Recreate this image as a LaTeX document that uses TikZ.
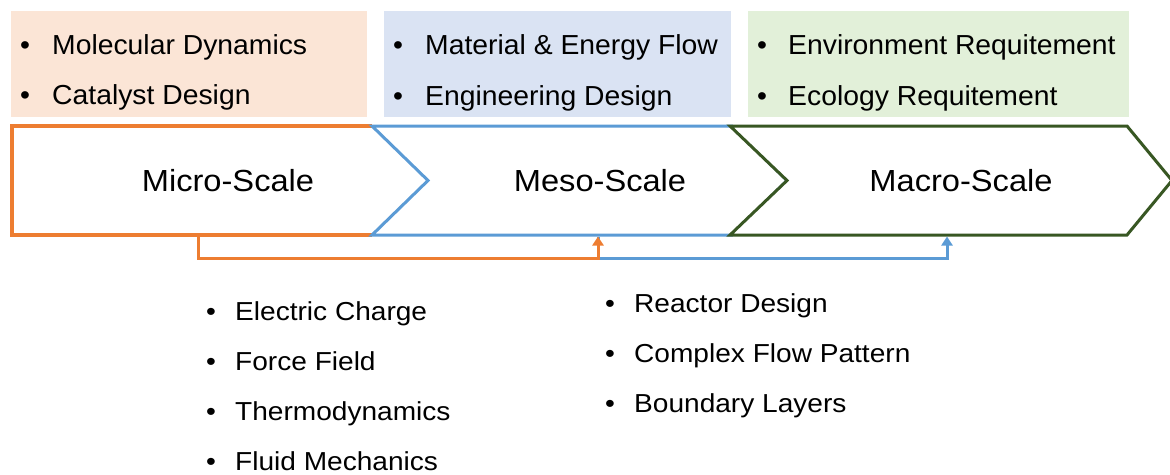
\documentclass[tikz,border=0pt]{standalone}
\usepackage{fontspec}
\setmainfont{Liberation Sans}
\newfontfamily\topfont[FakeStretch=1.03]{Liberation Sans}
\newfontfamily\lowfont[FakeStretch=1.08]{Liberation Sans}
\newfontfamily\stagefont[FakeStretch=1.07]{Liberation Sans}
\usetikzlibrary{arrows.meta}
\definecolor{peach}{HTML}{FBE5D6}
\definecolor{paleblue}{HTML}{DAE3F3}
\definecolor{palegreen}{HTML}{E2F0D9}
\definecolor{orangeline}{HTML}{ED7D31}
\definecolor{blueline}{HTML}{5B9BD5}
\definecolor{greenline}{HTML}{385723}
\tikzset{
  topitem/.style={anchor=base west, inner sep=0pt, font=\topfont\fontsize{27.5}{33}\selectfont},
  lowitem/.style={anchor=base west, inner sep=0pt, font=\lowfont\fontsize{26}{31}\selectfont},
  topdot/.style={anchor=base, inner sep=0pt, font=\topfont\fontsize{27.5}{33}\selectfont},
  lowdot/.style={anchor=base, inner sep=0pt, font=\lowfont\fontsize{26}{31}\selectfont},
  scalelabel/.style={inner sep=0pt, anchor=base, font=\stagefont\fontsize{30.5}{37}\selectfont},
  link/.style={line width=3pt, -{Triangle[width=11pt,length=9pt]}},
}
\begin{document}
\begin{tikzpicture}[x=1pt,y=-1pt]
\useasboundingbox (0,0) rectangle (1170,474);

% background panels above the three stages
\fill[peach] (11,11) rectangle (367,117);
\fill[paleblue] (384,11) rectangle (731,117);
\fill[palegreen] (748,11) rectangle (1129,117);

% micro stage: white body, orange outline up to the meso notch
\fill[white] (12,126) -- (372,126) -- (428,180.5) -- (372,235) -- (12,235) -- cycle;
\draw[orangeline, line width=4pt, line join=miter]
  (372,126) -- (12,126) -- (12,235) -- (372,235);
% meso stage
\draw[blueline, line width=3pt, fill=white, line join=miter]
  (372,126) -- (732,126) -- (787,180.5) -- (732,235) -- (372,235) -- (428,180.5) -- cycle;
% macro stage
\draw[greenline, line width=3pt, fill=white, line join=miter]
  (730,126) -- (1127,126) -- (1172,180.5) -- (1127,235) -- (730,235) -- (787,180.5) -- cycle;

\node[scalelabel] (micro) at (228,191) {Micro-Scale};
\node[scalelabel] (meso) at (600,191) {Meso-Scale};
\node[scalelabel] (macro) at (961,191) {Macro-Scale};

% connector end points on the stage outlines
\coordinate (microOut) at (198,236);
\coordinate (mesoIn) at (598,236.5);
\coordinate (mesoOut) at (598,236.5);
\coordinate (macroIn) at (947,236.5);

\draw[link, blueline] (mesoOut) |- (947,258) -- (macroIn);
\draw[link, orangeline] (microOut) |- (598,258) -- (mesoIn);

% lists above the stages
\node[topdot] (d1) at (25,54) {\textbullet};
\node[topitem] (t1) at (52,54) {Molecular Dynamics};
\node[topdot] (d2) at (25,104) {\textbullet};
\node[topitem] (t2) at (52,104) {Catalyst Design};
\node[topdot] (d3) at (398,54) {\textbullet};
\node[topitem] (t3) at (425,54) {Material \& Energy Flow};
\node[topdot] (d4) at (398,105) {\textbullet};
\node[topitem] (t4) at (425,105) {Engineering Design};
\node[topdot] (d5) at (762,54) {\textbullet};
\node[topitem] (t5) at (788,54) {Environment Requitement};
\node[topdot] (d6) at (762,105) {\textbullet};
\node[topitem] (t6) at (788,105) {Ecology Requitement};

% lists below the stages
\node[lowdot] (e1) at (211,320) {\textbullet};
\node[lowitem] (l1) at (235,320) {Electric Charge};
\node[lowdot] (e2) at (211,370) {\textbullet};
\node[lowitem] (l2) at (235,370) {Force Field};
\node[lowdot] (e3) at (211,420) {\textbullet};
\node[lowitem] (l3) at (235,420) {Thermodynamics};
\node[lowdot] (e4) at (211,470) {\textbullet};
\node[lowitem] (l4) at (235,470) {Fluid Mechanics};

\node[lowdot] (f1) at (610,312) {\textbullet};
\node[lowitem] (r1) at (634,312) {Reactor Design};
\node[lowdot] (f2) at (610,362) {\textbullet};
\node[lowitem] (r2) at (634,362) {Complex Flow Pattern};
\node[lowdot] (f3) at (610,412) {\textbullet};
\node[lowitem] (r3) at (634,412) {Boundary Layers};
\end{tikzpicture}
\end{document}
